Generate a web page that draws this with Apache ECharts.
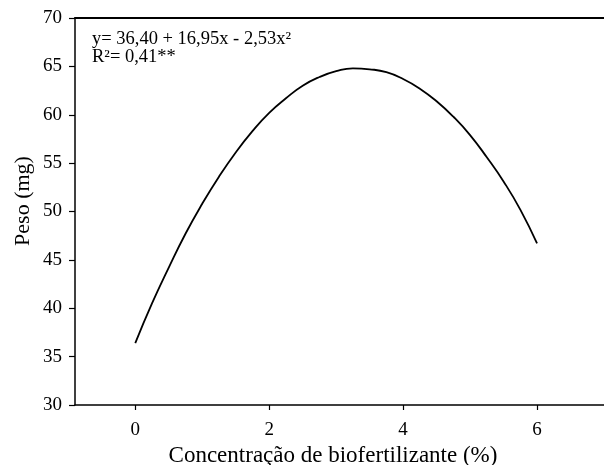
<!DOCTYPE html>
<html><head><meta charset="utf-8">
<script src="https://cdn.jsdelivr.net/npm/echarts@6/dist/echarts.min.js"></script>
<style>html,body{margin:0;padding:0;background:#fff}#c{width:604px;height:465px}</style>
</head><body><div id="c"></div>
<script>
const xValues = [0, 0.25, 0.5, 0.75, 1, 1.25, 1.5, 1.75, 2, 2.25, 2.5, 2.75, 3, 3.25, 3.5, 3.75, 4, 4.25, 4.5, 4.75, 5, 5.25, 5.5, 5.75, 6];
const pesoValues = [36.4, 40.5, 44.2, 47.7, 50.8, 53.6, 56.1, 58.3, 60.2, 61.7, 63.0, 63.9, 64.5, 64.8, 64.7, 64.4, 63.7, 62.7, 61.4, 59.8, 57.9, 55.6, 53.1, 50.2, 46.7];
const xTicks = [0, 2, 4, 6];
const yTicks = [30, 35, 40, 45, 50, 55, 60, 65, 70];
const equationLines = ['y= 36,40 + 16,95x - 2,53x²', 'R²= 0,41**'];
const xTitle = 'Concentração de biofertilizante (%)';
const yTitle = 'Peso (mg)';

const font = 'Liberation Serif, Times New Roman, serif';
const chart = echarts.init(document.getElementById('c'), null, {renderer: 'canvas'});
chart.setOption({
  backgroundColor: '#fff',
  animation: false,
  grid: {left: 75, right: 0, top: 18, bottom: 60, containLabel: false, outerBoundsMode: 'none'},
  xAxis: [{
    type: 'value', min: -0.9, max: 7,
    name: xTitle, nameLocation: 'middle', nameGap: 33,
    nameTextStyle: {fontFamily: font, fontSize: 23, color: '#000', padding: [0, 13, 0, 0]},
    axisLine: {onZero: false, lineStyle: {color: '#000', width: 1.5}},
    axisTick: {show: true, length: 5, lineStyle: {color: '#000', width: 1.2}, customValues: xTicks},
    axisLabel: {fontFamily: font, fontSize: 19, color: '#000', margin: 16, customValues: xTicks},
    splitLine: {show: false}
  }, {
    type: 'value', min: -0.9, max: 7, position: 'top',
    axisLine: {show: true, onZero: false, lineStyle: {color: '#000', width: 2}},
    axisTick: {show: false}, axisLabel: {show: false}, splitLine: {show: false}
  }],
  yAxis: {
    type: 'value', min: 30, max: 70, interval: 5,
    axisLine: {show: true, onZero: false, lineStyle: {color: '#000', width: 1.5}},
    axisTick: {show: true, length: 6, lineStyle: {color: '#000', width: 1.2}, customValues: yTicks},
    axisLabel: {fontFamily: font, fontSize: 19, color: '#000', margin: 13, customValues: yTicks},
    splitLine: {show: false}
  },
  graphic: [{
    type: 'text', left: 92, top: 30,
    style: {text: equationLines.join('\n'), fontFamily: font, fontSize: 18.5, lineHeight: 18, fill: '#000'}
  }, {
    type: 'text', x: 23, y: 201, rotation: Math.PI / 2,
    style: {text: yTitle, fontFamily: font, fontSize: 22, fill: '#000', align: 'center', verticalAlign: 'middle'}
  }],
  series: [{
    type: 'line', xAxisIndex: 0,
    data: xValues.map((x, i) => [x, pesoValues[i]]),
    smooth: true, showSymbol: false,
    lineStyle: {color: '#000', width: 1.8}
  }]
});
</script></body></html>
